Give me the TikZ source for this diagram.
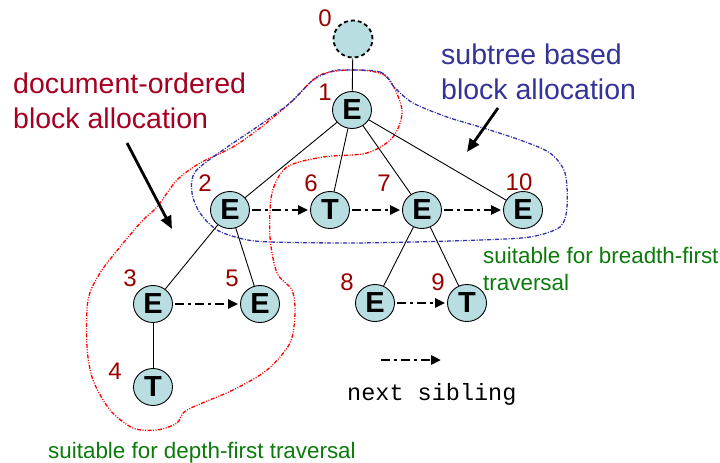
\documentclass[tikz,border=0pt]{standalone}
\usepackage{fontspec}
\setmainfont{Liberation Sans}
\setmonofont{Liberation Mono}
\usetikzlibrary{arrows.meta,shapes.geometric}

\definecolor{nodefill}{HTML}{B9DEE2}
\definecolor{numred}{HTML}{990000}
\definecolor{docred}{HTML}{A50021}
\definecolor{subblue}{HTML}{333399}
\definecolor{travgreen}{HTML}{0B7A0B}
\definecolor{curveblue}{HTML}{3333AA}

\tikzset{
    elem/.style={ellipse, draw, line width=0.9pt, fill=nodefill, minimum width=39pt,
        minimum height=37pt, inner sep=0pt, font=\fontsize{29}{29}\selectfont\bfseries},
    num/.style={text=numred, inner sep=0pt, font=\fontsize{24}{24}\selectfont},
    edge/.style={line width=0.9pt},
    sibling/.style={line width=2.5pt, dash pattern=on 9pt off 4pt on 3pt off 4pt,
        shorten <=2pt, shorten >=2pt, -{Triangle[length=10pt,width=9pt]}},
    pointer/.style={line width=2.8pt, -{Triangle[length=13pt,width=11pt]}},
    bigtext/.style={anchor=base west, align=left, inner sep=0pt, font=\fontsize{28.5}{34.5}\selectfont},
    smalltext/.style={anchor=base west, align=left, inner sep=0pt, text=travgreen,
        font=\fontsize{22.4}{27}\selectfont},
}

\begin{document}
\begin{tikzpicture}[x=1pt, y=-1pt]
    \useasboundingbox (0,0) rectangle (720,463);

    % allocation regions
    \draw[red, line width=1.3pt, dash pattern=on 4pt off 1.5pt on 1pt off 1.5pt on 1pt off 1.5pt]
        plot[smooth cycle] coordinates {(357,70) (387,77) (402,110) (393,137) (367,153) (323,157)
        (287,167) (272,193) (270,237) (277,273) (292,290) (295,313) (290,343) (267,370) (233,390)
        (187,410) (177,423) (157,430) (133,428) (110,410) (93,380) (87,347) (88,300) (100,273)
        (120,247) (143,220) (157,207) (177,180) (200,163) (233,147) (260,128) (290,103) (320,75)};
    \draw[curveblue, line width=1.3pt, dash pattern=on 4pt off 1.5pt on 1pt off 1.5pt]
        plot[smooth cycle] coordinates {(340,70) (380,72) (395,88) (413,103) (447,117) (480,127)
        (520,140) (550,153) (565,173) (567,207) (560,227) (530,237) (480,240) (413,242) (347,243)
        (270,242) (243,239) (217,230) (200,213) (192,193) (195,172) (223,150) (257,127) (290,103)
        (313,80) (330,72)};

    % tree nodes
    \node[elem, dash pattern=on 4pt off 3pt, line width=1.8pt] (n0) at (353,39) {};
    \node[elem] (n1) at (352,110) {E};
    \node[elem] (n2) at (230,210) {E};
    \node[elem] (n6) at (330,210) {T};
    \node[elem] (n7) at (422,210) {E};
    \node[elem] (n10) at (523,210) {E};
    \node[elem] (n3) at (153,304) {E};
    \node[elem] (n5) at (260,304) {E};
    \node[elem] (n4) at (153,387) {T};
    \node[elem] (n8) at (375,303) {E};
    \node[elem] (n9) at (467,303) {T};

    \node[num] (l0) at (325,18) {0};
    \node[num] (l1) at (325,92) {1};
    \node[num] (l2) at (205,183) {2};
    \node[num] (l6) at (311,183) {6};
    \node[num] (l7) at (384,183) {7};
    \node[num] (l10) at (519,182) {10};
    \node[num] (l3) at (130,278) {3};
    \node[num] (l5) at (232,278) {5};
    \node[num] (l4) at (115,371) {4};
    \node[num] (l8) at (347,282) {8};
    \node[num] (l9) at (438,282) {9};

    % parent-child edges
    \draw[edge] (n0) -- (n1);
    \draw[edge] (n1) -- (n2);
    \draw[edge] (n1) -- (n6);
    \draw[edge] (n1) -- (n7);
    \draw[edge] (n1) -- (n10);
    \draw[edge] (n2) -- (n3);
    \draw[edge] (n2) -- (n5);
    \draw[edge] (n3) -- (n4);
    \draw[edge] (n7) -- (n8);
    \draw[edge] (n7) -- (n9);

    % next-sibling links
    \draw[sibling] (n2) -- (n6);
    \draw[sibling] (n6) -- (n7);
    \draw[sibling] (n7) -- (n10);
    \draw[sibling] (n3) -- (n5);
    \draw[sibling] (n8) -- (n9);

    % labels (base anchor sits on the last line)
    \node[bigtext, text=docred] (docalloc) at (13,128) {document-ordered\\block allocation};
    \node[bigtext, text=subblue] (suballoc) at (441,99) {subtree based\\block allocation};
    \coordinate (doctail) at (127,143);
    \coordinate (dochead) at (172,229);
    \coordinate (subtail) at (498,108);
    \coordinate (subhead) at (467,152);
    \draw[pointer] (doctail) -- (dochead);
    \draw[pointer] (subtail) -- (subhead);

    \node[smalltext] (breadth) at (483,290) {suitable for breadth-first\\traversal};
    \node[smalltext] (depth) at (48,458) {suitable for depth-first traversal};

    % legend
    \coordinate (legstart) at (379,360);
    \coordinate (legend) at (443,360);
    \draw[sibling] (legstart) -- (legend);
    \node[anchor=base west, inner sep=0pt, font=\fontsize{23.5}{23.5}\selectfont\ttfamily] (legtext) at (347,400) {next sibling};
\end{tikzpicture}
\end{document}
